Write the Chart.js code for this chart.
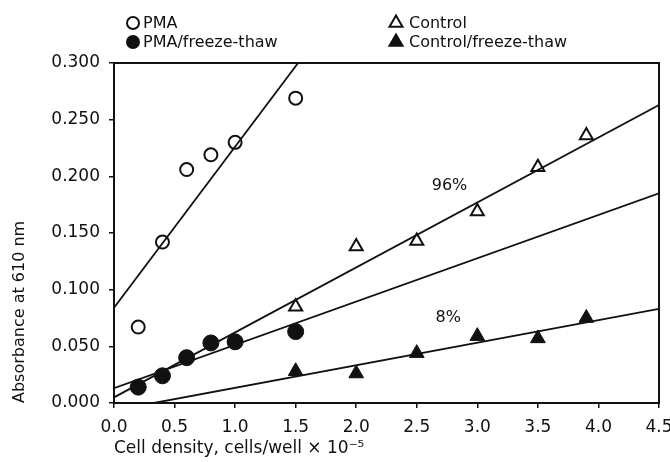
<!DOCTYPE html>
<html>
<head>
<meta charset="utf-8">
<script src="https://cdn.jsdelivr.net/npm/chart.js@4.4.1/dist/chart.umd.min.js"></script>
<style>
  html, body { margin: 0; padding: 0; background: #fff; }
  canvas { display: block; }
</style>
</head>
<body>
<canvas id="absChart" width="670" height="462"></canvas>
<script>
// measured points
const densityPMA = [0.2, 0.4, 0.6, 0.8, 1.0, 1.5];
const absPMA = [0.067, 0.142, 0.206, 0.219, 0.230, 0.269];
const absPMAFreeze = [0.014, 0.024, 0.040, 0.053, 0.054, 0.063];

const densityControl = [1.5, 2.0, 2.5, 3.0, 3.5, 3.9];
const absControl = [0.085, 0.138, 0.143, 0.169, 0.208, 0.236];
const absControlFreeze = [0.028, 0.026, 0.044, 0.059, 0.057, 0.075];

// regression lines, end points
const fitPMAX = [0, 1.52];
const fitPMAY = [0.084, 0.300];
const fitControlX = [0, 4.5];
const fitControlY = [0.005, 0.263];
const fitPMAFreezeX = [0, 4.5];
const fitPMAFreezeY = [0.013, 0.185];
const fitControlFreezeX = [0.33, 4.5];
const fitControlFreezeY = [0.0, 0.083];

const seriesNames = ['PMA', 'PMA/freeze-thaw', 'Control', 'Control/freeze-thaw'];
const xTicks = [0, 0.5, 1.0, 1.5, 2.0, 2.5, 3.0, 3.5, 4.0, 4.5];
const yTicks = [0, 0.05, 0.10, 0.15, 0.20, 0.25, 0.30];

const noteText = ['96%', '8%'];
const noteX = [2.77, 2.76];
const noteY = [0.192, 0.075];

const ink = '#111';
Chart.defaults.font.family = '"DejaVu Sans", sans-serif';
Chart.defaults.color = ink;

function toPoints(xs, ys) {
    return xs.map((x, i) => ({x: x, y: ys[i]}));
}

function fitLine(xs, ys) {
    return {
        data: toPoints(xs, ys),
        showLine: true,
        borderColor: ink,
        borderWidth: 1.8,
        pointRadius: 0,
        fill: false
    };
}

function drawMarker(ctx, style, filled, cx, cy, r) {
    ctx.beginPath();
    if (style === 'circle') {
        ctx.arc(cx, cy, r, 0, Math.PI * 2);
    } else {
        ctx.moveTo(cx, cy - r);
        ctx.lineTo(cx + r * 0.866, cy + r * 0.5);
        ctx.lineTo(cx - r * 0.866, cy + r * 0.5);
        ctx.closePath();
    }
    ctx.fillStyle = filled ? ink : '#fff';
    ctx.fill();
    ctx.lineWidth = 2;
    ctx.strokeStyle = ink;
    ctx.stroke();
}

// legend in two columns + the 96% / 8% notes
const notesAndLegend = {
    id: 'notesAndLegend',
    afterDraw: (chart) => {
        const ctx = chart.ctx;
        const xs = chart.scales.x;
        const ys = chart.scales.y;
        ctx.save();
        ctx.fillStyle = ink;
        ctx.font = '16px "DejaVu Sans"';
        ctx.textAlign = 'center';
        ctx.textBaseline = 'middle';
        noteText.forEach((t, i) => {
            ctx.fillText(t, xs.getPixelForValue(noteX[i]), ys.getPixelForValue(noteY[i]));
        });

        const styles = ['circle', 'circle', 'triangle', 'triangle'];
        const filled = [false, true, false, true];
        const colX = [133, 133, 396, 396];
        const rowY = [23, 42, 23, 42];
        seriesNames.forEach((name, i) => {
            drawMarker(ctx, styles[i], filled[i], colX[i], rowY[i], styles[i] === 'circle' ? 6 : 7.5);
            ctx.fillStyle = ink;
            ctx.textAlign = 'left';
            ctx.fillText(name, colX[i] + (styles[i] === 'circle' ? 10 : 13), rowY[i] + 1);
        });
        ctx.restore();
    }
};

const canvas = document.getElementById('absChart');

new Chart(canvas, {
    type: 'scatter',
    data: {
        datasets: [
            {
                label: seriesNames[0],
                data: toPoints(densityPMA, absPMA),
                pointStyle: 'circle',
                pointRadius: 6.5,
                pointBorderWidth: 2,
                pointBorderColor: ink,
                pointBackgroundColor: 'rgba(0,0,0,0)'
            },
            {
                label: seriesNames[1],
                data: toPoints(densityPMA, absPMAFreeze),
                pointStyle: 'circle',
                pointRadius: 8,
                pointBorderWidth: 1,
                pointBorderColor: ink,
                pointBackgroundColor: ink
            },
            {
                label: seriesNames[2],
                data: toPoints(densityControl, absControl),
                pointStyle: 'triangle',
                pointRadius: 7.5,
                pointBorderWidth: 2,
                pointBorderColor: ink,
                pointBackgroundColor: 'rgba(0,0,0,0)'
            },
            {
                label: seriesNames[3],
                data: toPoints(densityControl, absControlFreeze),
                pointStyle: 'triangle',
                pointRadius: 8.5,
                pointBorderWidth: 1,
                pointBorderColor: ink,
                pointBackgroundColor: ink
            },
            fitLine(fitPMAX, fitPMAY),
            fitLine(fitControlX, fitControlY),
            fitLine(fitPMAFreezeX, fitPMAFreezeY),
            fitLine(fitControlFreezeX, fitControlFreezeY)
        ]
    },
    options: {
        responsive: false,
        animation: false,
        layout: {
            padding: {top: 63, right: 11, bottom: 0, left: 0}
        },
        plugins: {
            legend: { display: false },
            tooltip: { enabled: false }
        },
        scales: {
            x: {
                type: 'linear',
                position: 'bottom',
                min: 0,
                max: 4.5,
                afterBuildTicks: (scale) => {
                    scale.ticks = xTicks.map(v => ({value: v}));
                },
                afterFit: (scale) => {
                    scale.height = 59;
                    scale.paddingLeft = 0;
                    scale.paddingRight = 0;
                },
                ticks: {
                    font: {size: 17},
                    color: ink,
                    padding: 9,
                    maxRotation: 0,
                    callback: (value) => Number(value).toFixed(1)
                },
                grid: {
                    drawOnChartArea: false,
                    drawTicks: true,
                    tickLength: 5,
                    color: ink,
                    lineWidth: 1.5
                },
                border: { display: true, color: ink, width: 2 },
                title: {
                    display: true,
                    text: 'Cell density, cells/well × 10⁻⁵',
                    align: 'start',
                    font: {size: 17},
                    color: ink,
                    padding: {top: 0, bottom: 3}
                }
            },
            y: {
                type: 'linear',
                position: 'left',
                min: 0,
                max: 0.3,
                afterBuildTicks: (scale) => {
                    scale.ticks = yTicks.map(v => ({value: v}));
                },
                afterFit: (scale) => {
                    scale.width = 114;
                },
                ticks: {
                    font: {size: 17},
                    color: ink,
                    padding: 9,
                    callback: (value) => Number(value).toFixed(3)
                },
                grid: {
                    drawOnChartArea: false,
                    drawTicks: true,
                    tickLength: 5,
                    color: ink,
                    lineWidth: 1.5
                },
                border: { display: true, color: ink, width: 2 },
                title: {
                    display: true,
                    text: 'Absorbance at 610 nm',
                    align: 'start',
                    font: {size: 16},
                    color: ink,
                    padding: {top: 10, bottom: 0}
                }
            },
            xTop: {
                type: 'linear',
                position: 'top',
                min: 0,
                max: 4.5,
                afterFit: (scale) => { scale.height = 0; },
                ticks: { display: false },
                grid: { display: false },
                border: { display: true, color: ink, width: 2 }
            },
            yRight: {
                type: 'linear',
                position: 'right',
                min: 0,
                max: 0.3,
                afterFit: (scale) => { scale.width = 0; },
                ticks: { display: false },
                grid: { display: false },
                border: { display: true, color: ink, width: 2 }
            }
        }
    },
    plugins: [notesAndLegend]
});
</script>
</body>
</html>
